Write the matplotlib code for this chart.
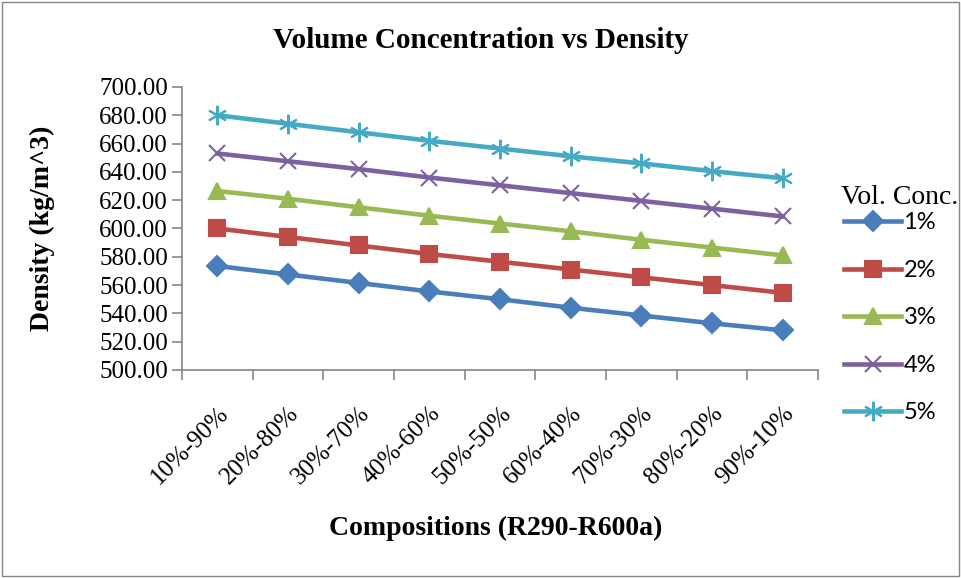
import matplotlib
matplotlib.use('Agg')
import matplotlib.pyplot as plt
from matplotlib.patches import Rectangle

compositions = ['10%-90%', '20%-80%', '30%-70%', '40%-60%', '50%-50%',
                '60%-40%', '70%-30%', '80%-20%', '90%-10%']
conc_labels = ['1%', '2%', '3%', '4%', '5%']

dens_1 = [573.5, 567.5, 561.5, 555.5, 550.0, 544.0, 538.5, 533.0, 528.0]
dens_2 = [600.0, 594.0, 588.0, 582.0, 576.5, 571.0, 565.5, 560.0, 554.5]
dens_3 = [626.5, 621.0, 615.0, 609.0, 603.5, 598.0, 592.0, 586.5, 581.0]
dens_4 = [653.0, 647.5, 642.0, 636.0, 630.5, 625.0, 619.5, 614.0, 608.5]
dens_5 = [680.0, 674.0, 668.0, 662.0, 656.5, 651.0, 646.0, 640.5, 635.5]

colors = ['#4A7EBB', '#BE4B48', '#98B954', '#7D60A0', '#46AAC5']
markers = ['D', 's', '^', 'x', (6, 2, 0)]
msizes = [10, 12, 12, 12, 14]

serif = 'Liberation Serif'
sans = 'Lato'

fig = plt.figure(figsize=(9.61, 5.78), dpi=100)
ax = fig.add_axes([0.1894, 0.3599, 0.6618, 0.4896])

xs = list(range(len(compositions)))
for vals, lab, c, m, ms in zip([dens_1, dens_2, dens_3, dens_4, dens_5],
                               conc_labels, colors, markers, msizes):
    ax.plot(xs, vals, color=c, lw=3.3, marker=m, ms=ms, mec=c, mfc=c,
            mew=1.5, label=lab)

ax.set_xlim(-0.5, len(compositions) - 0.5)
ax.set_ylim(500, 700)
ax.set_yticks(range(500, 701, 20))
ax.set_yticklabels(['%.2f' % v for v in range(500, 701, 20)],
                   fontfamily=serif, fontsize=18)

# tick marks between categories, labels at the centres
ax.set_xticks([i - 0.5 for i in range(len(compositions) + 1)])
ax.set_xticklabels([])
ax.set_xticks(xs, minor=True)
ax.set_xticklabels(compositions, minor=True, rotation=45, ha='right',
                   rotation_mode='anchor', fontfamily=serif, fontsize=18)
ax.tick_params(axis='x', which='minor', length=0, pad=23)
ax.tick_params(axis='x', which='major', length=7, color='#868686', width=1.2)
ax.tick_params(axis='y', length=7, color='#868686', width=1.2, pad=3)

for s in ['top', 'right']:
    ax.spines[s].set_visible(False)
for s in ['left', 'bottom']:
    ax.spines[s].set_color('#868686')
    ax.spines[s].set_linewidth(1.2)

ax.set_ylabel('Density (kg/m^3)', fontfamily=serif, fontsize=20,
              fontweight='bold')
ax.yaxis.set_label_coords(-0.2, 0.5)
fig.text(496 / 961, 1 - 528 / 578, 'Compositions (R290-R600a)', ha='center',
         va='center', fontfamily=serif, fontsize=20, fontweight='bold')
fig.text(0.5, 1 - 40 / 578, 'Volume Concentration vs Density', ha='center',
         va='center', fontfamily=serif, fontsize=21, fontweight='bold')

leg = ax.legend(loc='upper left', bbox_to_anchor=(835 / 961, 1 - 203 / 578),
                bbox_transform=fig.transFigure, frameon=False,
                prop={'family': sans, 'size': 17}, handlelength=2.4,
                handletextpad=0.1, labelspacing=1.12, borderaxespad=0)
fig.text(841 / 961, 1 - 198 / 578, 'Vol. Conc.', ha='left', va='center',
         fontfamily=serif, fontsize=20)

fig.patches.append(Rectangle((0.002, 0.003), 0.996, 0.994, fill=False,
                             edgecolor='#868686', lw=1.0,
                             transform=fig.transFigure, figure=fig))

fig.savefig('out.png', dpi=100)
